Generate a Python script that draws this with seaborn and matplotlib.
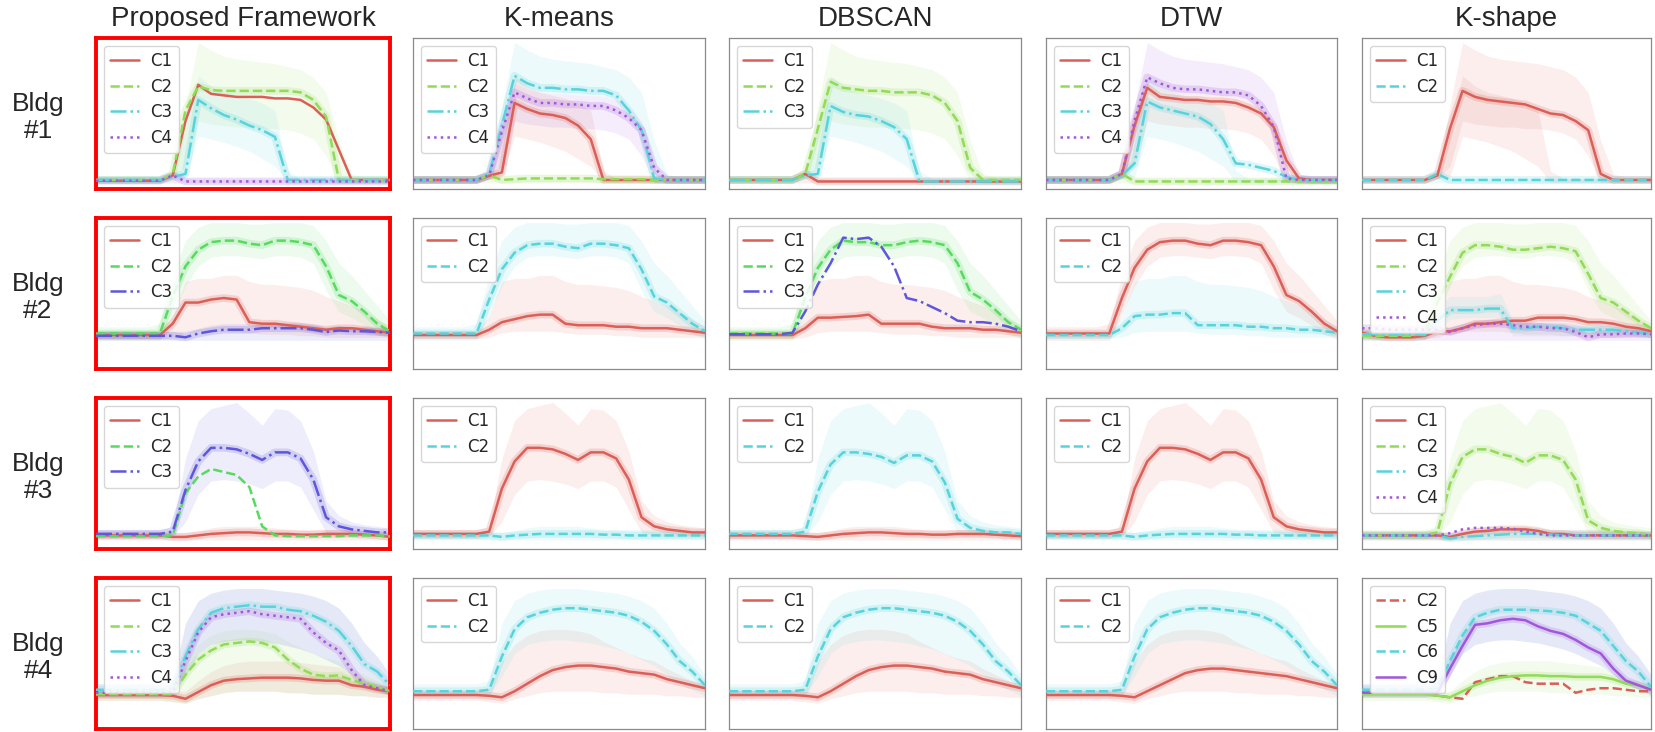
import matplotlib
matplotlib.use("Agg")
import matplotlib.pyplot as plt
import seaborn as sns

# ---------------- data (values read as fraction of panel height) ----------------
hours = list(range(24))
methods = ["Proposed Framework", "K-means", "DBSCAN", "DTW", "K-shape"]
buildings = ["Bldg\n#1", "Bldg\n#2", "Bldg\n#3", "Bldg\n#4"]

# Bldg 1 centroids
b1_prop_c1 = [.055,.055,.055,.055,.055,.055,.09,.45,.69,.63,.62,.61,.61,.61,.60,.60,.59,.54,.46,.26,.06,.06,.06,.06]
b1_prop_c2 = [.06,.06,.06,.06,.06,.06,.10,.52,.68,.655,.65,.65,.65,.65,.65,.65,.64,.59,.48,.06,.06,.06,.06,.06]
b1_prop_c3 = [.06,.06,.06,.06,.06,.06,.08,.10,.59,.535,.49,.46,.42,.39,.345,.06,.06,.06,.06,.06,.06,.06,.06,.06]
b1_prop_c4 = [.055,.055,.055,.055,.055,.055,.09,.05,.05,.05,.05,.05,.05,.05,.05,.05,.05,.05,.05,.05,.05,.05,.05,.05]
b1_km_c1 = [.06,.06,.06,.06,.06,.06,.087,.11,.57,.53,.50,.49,.47,.42,.33,.06,.06,.06,.06,.06,.06,.06,.06,.06]
b1_km_c2 = [.06,.06,.06,.06,.06,.06,.09,.06,.065,.07,.07,.07,.07,.07,.07,.065,.065,.065,.065,.06,.06,.06,.06,.06]
b1_km_c3 = [.06,.06,.06,.06,.06,.06,.10,.42,.75,.70,.67,.67,.66,.66,.65,.65,.62,.52,.39,.07,.06,.06,.06,.06]
b1_km_c4 = [.06,.06,.06,.06,.06,.06,.09,.38,.64,.60,.57,.57,.56,.56,.55,.55,.52,.47,.39,.14,.06,.06,.06,.06]
b1_db_c1 = [.06,.06,.06,.06,.06,.06,.10,.05,.05,.05,.05,.05,.05,.05,.05,.05,.05,.05,.05,.05,.05,.05,.05,.05]
b1_db_c2 = [.06,.06,.06,.06,.06,.06,.10,.40,.71,.67,.66,.65,.65,.64,.64,.64,.62,.57,.45,.14,.06,.06,.06,.06]
b1_db_c3 = [.06,.06,.06,.06,.06,.06,.09,.10,.55,.51,.49,.48,.45,.41,.33,.05,.05,.05,.05,.05,.05,.05,.05,.05]
b1_dtw_c1 = [.06,.06,.06,.06,.06,.06,.10,.42,.67,.61,.60,.59,.59,.58,.58,.57,.54,.50,.41,.19,.07,.06,.06,.06]
b1_dtw_c2 = [.06,.06,.06,.06,.06,.06,.10,.05,.05,.05,.05,.05,.05,.05,.05,.05,.05,.05,.05,.05,.05,.05,.05,.05]
b1_dtw_c3 = [.06,.06,.06,.06,.06,.06,.09,.17,.58,.54,.52,.50,.48,.43,.33,.17,.16,.14,.12,.08,.06,.06,.06,.06]
b1_dtw_c4 = [.06,.06,.06,.06,.06,.06,.10,.45,.74,.70,.67,.66,.66,.65,.64,.64,.62,.55,.41,.07,.06,.06,.06,.06]
b1_ks_c1 = [.06,.06,.06,.06,.06,.06,.09,.40,.65,.61,.59,.58,.57,.56,.53,.50,.49,.45,.39,.10,.06,.06,.06,.06]
b1_ks_c2 = [.06,.06,.06,.06,.06,.06,.10,.06,.06,.06,.06,.06,.06,.06,.06,.06,.06,.06,.06,.06,.06,.06,.06,.06]
# Bldg 1 member envelopes
b1_plat_hi = [.08,.08,.08,.08,.08,.08,.12,.55,.97,.92,.88,.86,.85,.84,.83,.81,.79,.74,.64,.32,.10,.08,.08,.08]
b1_plat_mid = [.06,.06,.06,.06,.06,.06,.10,.42,.70,.66,.64,.63,.63,.62,.62,.61,.59,.54,.45,.18,.06,.06,.06,.06]
b1_plat_lo = [.04,.04,.04,.04,.04,.04,.07,.15,.45,.43,.42,.41,.41,.40,.40,.39,.37,.33,.22,.04,.04,.04,.04,.04]
b1_early_hi = [.07,.07,.07,.07,.07,.07,.10,.40,.75,.68,.64,.62,.60,.57,.52,.12,.07,.07,.07,.07,.07,.07,.07,.07]
b1_early_lo = [.045,.045,.045,.045,.045,.045,.07,.08,.35,.33,.31,.28,.25,.20,.15,.045,.045,.045,.045,.045,.045,.045,.045,.045]
b1_base_hi = [.075,.075,.075,.075,.075,.075,.11,.07,.065,.065,.065,.065,.065,.065,.065,.065,.065,.065,.065,.065,.065,.065,.065,.065]
b1_base_lo = [.04,.04,.04,.04,.04,.04,.04,.04,.04,.04,.04,.04,.04,.04,.04,.04,.04,.04,.04,.04,.04,.04,.04,.04]

# Bldg 2 centroids
b2_prop_c1 = [.225,.225,.225,.225,.225,.225,.30,.44,.44,.46,.47,.46,.31,.30,.30,.29,.28,.27,.26,.27,.27,.26,.25,.24]
b2_prop_c2 = [.235,.235,.235,.235,.235,.235,.48,.68,.79,.84,.85,.85,.83,.82,.85,.85,.84,.82,.68,.49,.45,.38,.30,.25]
b2_prop_c3 = [.22,.22,.22,.22,.22,.22,.22,.21,.235,.25,.26,.26,.26,.27,.27,.27,.27,.26,.245,.255,.25,.25,.245,.24]
b2_km_c1 = [.225,.225,.225,.225,.225,.225,.26,.31,.33,.35,.36,.36,.30,.29,.29,.29,.28,.28,.27,.27,.27,.26,.25,.24]
b2_km_c2 = [.235,.235,.235,.235,.235,.235,.46,.66,.77,.82,.83,.83,.81,.80,.83,.83,.82,.80,.66,.48,.44,.37,.30,.25]
b2_db_c1 = [.225,.225,.225,.225,.225,.225,.27,.34,.34,.345,.35,.36,.30,.30,.30,.30,.28,.27,.27,.27,.26,.26,.25,.24]
b2_db_c2 = [.235,.235,.235,.235,.235,.235,.47,.67,.79,.85,.84,.84,.82,.82,.84,.85,.84,.82,.70,.51,.46,.39,.31,.26]
b2_db_c3 = [.23,.23,.23,.23,.23,.24,.38,.56,.70,.87,.86,.87,.81,.68,.47,.45,.41,.37,.32,.31,.31,.30,.28,.25]
b2_dtw_c1 = [.235,.235,.235,.235,.235,.235,.47,.67,.79,.84,.85,.85,.83,.82,.85,.85,.84,.82,.68,.49,.45,.38,.30,.25]
b2_dtw_c2 = [.225,.225,.225,.225,.225,.225,.27,.35,.36,.36,.37,.37,.29,.29,.29,.29,.28,.28,.27,.27,.26,.26,.25,.24]
b2_ks_c1 = [.24,.22,.21,.21,.21,.22,.25,.25,.27,.30,.30,.31,.32,.32,.34,.34,.34,.33,.31,.31,.30,.28,.27,.25]
b2_ks_c2 = [.22,.22,.22,.22,.22,.24,.44,.61,.77,.82,.82,.81,.79,.79,.80,.81,.80,.78,.63,.47,.44,.38,.32,.27]
b2_ks_c3 = [.23,.23,.23,.23,.23,.225,.32,.39,.39,.39,.40,.40,.27,.27,.28,.28,.27,.26,.26,.26,.26,.25,.24,.235]
b2_ks_c4 = [.27,.27,.26,.26,.26,.26,.26,.245,.27,.29,.30,.30,.29,.28,.28,.27,.27,.245,.21,.23,.23,.235,.235,.23]
# Bldg 2 member envelopes
b2_high_hi = [.28,.28,.28,.28,.28,.30,.62,.85,.94,.97,.97,.97,.96,.96,.97,.97,.97,.95,.85,.70,.62,.52,.42,.32]
b2_high_lo = [.19,.19,.19,.19,.19,.19,.36,.55,.68,.74,.75,.75,.74,.73,.75,.75,.74,.70,.52,.38,.34,.29,.23,.20]
b2_mid_hi = [.25,.25,.25,.25,.25,.25,.35,.58,.60,.60,.62,.62,.58,.56,.56,.55,.54,.52,.48,.45,.42,.38,.33,.28]
b2_mid_lo = [.20,.20,.20,.20,.20,.20,.21,.24,.25,.25,.25,.25,.24,.23,.23,.23,.22,.22,.21,.21,.21,.21,.21,.21]
b2_step_hi = [.25,.25,.25,.25,.25,.25,.40,.48,.48,.48,.48,.50,.33,.30,.30,.29,.29,.28,.28,.28,.27,.27,.26,.26]
b2_step_lo = [.20,.20,.20,.20,.20,.20,.26,.33,.34,.34,.34,.34,.22,.22,.22,.22,.22,.22,.22,.22,.22,.22,.22,.22]
b2_base_hi = [.25,.25,.25,.25,.25,.25,.25,.25,.27,.29,.30,.30,.30,.31,.31,.31,.31,.30,.28,.29,.28,.28,.27,.27]
b2_base_lo = [.19,.19,.19,.19,.19,.19,.19,.19,.19,.19,.19,.19,.19,.19,.19,.19,.19,.19,.19,.19,.19,.19,.19,.19]

# Bldg 3 centroids
b3_prop_c1 = [.09,.09,.09,.09,.09,.09,.08,.08,.09,.10,.105,.11,.11,.105,.10,.10,.095,.095,.10,.10,.10,.095,.09,.08]
b3_prop_c2 = [.085,.085,.085,.085,.085,.085,.09,.37,.48,.53,.51,.49,.41,.15,.09,.085,.085,.085,.085,.085,.09,.09,.09,.085]
b3_prop_c3 = [.10,.10,.10,.10,.10,.10,.115,.39,.58,.67,.67,.66,.63,.59,.64,.64,.60,.46,.21,.15,.13,.12,.11,.11]
b3_km_c1 = [.10,.10,.10,.10,.10,.10,.115,.40,.58,.67,.67,.66,.63,.59,.64,.64,.60,.46,.21,.15,.13,.12,.11,.11]
b3_km_c2 = [.09,.09,.09,.09,.09,.09,.09,.08,.09,.095,.10,.10,.10,.10,.10,.095,.095,.09,.09,.09,.09,.09,.09,.09]
b3_db_c1 = [.09,.09,.09,.09,.09,.09,.085,.08,.09,.10,.105,.11,.11,.105,.10,.10,.095,.095,.10,.10,.10,.095,.09,.085]
b3_db_c2 = [.10,.10,.10,.10,.10,.10,.115,.38,.56,.64,.64,.63,.61,.57,.62,.62,.58,.44,.20,.14,.12,.11,.11,.10]
b3_dtw_c1 = [.10,.10,.10,.10,.10,.10,.115,.40,.58,.67,.67,.66,.63,.59,.64,.64,.60,.46,.21,.15,.13,.12,.11,.11]
b3_dtw_c2 = [.09,.09,.09,.09,.09,.09,.09,.08,.09,.095,.10,.10,.10,.10,.10,.095,.095,.09,.09,.09,.09,.09,.09,.09]
b3_ks_c1 = [.09,.09,.09,.09,.09,.09,.09,.08,.10,.115,.12,.13,.13,.13,.12,.10,.10,.09,.09,.09,.09,.09,.09,.09]
b3_ks_c2 = [.09,.09,.09,.09,.09,.09,.11,.43,.61,.66,.66,.63,.61,.57,.62,.62,.59,.46,.19,.14,.12,.11,.105,.09]
b3_ks_c3 = [.09,.09,.09,.09,.09,.09,.09,.07,.08,.085,.09,.095,.10,.10,.10,.095,.09,.09,.09,.09,.09,.09,.09,.09]
b3_ks_c4 = [.09,.09,.09,.09,.09,.09,.09,.105,.13,.14,.14,.14,.135,.115,.10,.09,.09,.09,.09,.09,.09,.09,.09,.09]
# Bldg 3 member envelopes
b3_high_hi = [.13,.13,.13,.13,.13,.13,.15,.60,.85,.93,.95,.97,.90,.82,.93,.92,.85,.65,.32,.22,.18,.16,.15,.14]
b3_high_lo = [.07,.07,.07,.07,.07,.07,.08,.18,.36,.45,.46,.45,.43,.40,.45,.45,.41,.26,.11,.09,.08,.08,.08,.08]
b3_base_hi = [.11,.11,.11,.11,.11,.11,.11,.11,.12,.14,.15,.15,.15,.15,.14,.13,.13,.13,.13,.13,.13,.12,.12,.11]
b3_base_lo = [.06,.06,.06,.06,.06,.06,.06,.06,.06,.06,.06,.06,.06,.06,.06,.06,.06,.06,.06,.06,.06,.06,.06,.06]

# Bldg 4 centroids
b4_prop_c1 = [.225,.225,.225,.225,.225,.225,.22,.20,.245,.29,.32,.33,.335,.34,.34,.34,.335,.325,.32,.32,.29,.28,.26,.25]
b4_prop_c2 = [.23,.23,.23,.23,.23,.23,.23,.36,.46,.52,.56,.57,.58,.57,.54,.46,.40,.36,.35,.355,.325,.30,.28,.25]
b4_prop_c3 = [.26,.26,.26,.26,.26,.26,.27,.48,.66,.77,.80,.81,.82,.81,.81,.79,.78,.75,.71,.65,.55,.43,.38,.29]
b4_prop_c4 = [.24,.24,.24,.24,.24,.24,.24,.45,.64,.74,.76,.77,.78,.76,.75,.74,.73,.64,.57,.52,.39,.29,.27,.25]
b4_km_c1 = [.225,.225,.225,.225,.225,.225,.22,.21,.25,.30,.35,.39,.41,.42,.42,.41,.40,.38,.37,.36,.33,.31,.29,.27]
b4_km_c2 = [.25,.25,.25,.25,.25,.25,.26,.48,.66,.74,.77,.79,.80,.80,.79,.78,.77,.75,.71,.65,.56,.45,.38,.29]
b4_db_c1 = [.225,.225,.225,.225,.225,.225,.22,.21,.25,.30,.35,.39,.41,.42,.42,.41,.40,.38,.37,.36,.33,.31,.29,.27]
b4_db_c2 = [.25,.25,.25,.25,.25,.25,.26,.48,.66,.74,.77,.79,.80,.80,.79,.78,.77,.75,.71,.65,.56,.45,.38,.29]
b4_dtw_c1 = [.225,.225,.225,.225,.225,.225,.22,.21,.25,.29,.33,.37,.39,.40,.40,.39,.38,.37,.36,.35,.33,.31,.29,.27]
b4_dtw_c2 = [.25,.25,.25,.25,.25,.25,.26,.48,.66,.74,.77,.79,.80,.80,.79,.78,.77,.75,.71,.65,.56,.45,.38,.29]
b4_ks_c2 = [.24,.24,.24,.24,.24,.24,.22,.21,.20,.31,.33,.35,.35,.31,.30,.30,.30,.24,.26,.27,.27,.26,.25,.25]
b4_ks_c5 = [.23,.23,.23,.23,.23,.23,.22,.21,.25,.29,.32,.34,.35,.355,.355,.35,.35,.345,.345,.345,.33,.30,.29,.26]
b4_ks_c6 = [.26,.26,.26,.26,.26,.26,.27,.45,.62,.74,.77,.79,.79,.79,.785,.78,.77,.75,.70,.65,.55,.45,.38,.28]
b4_ks_c9 = [.24,.24,.24,.24,.24,.24,.24,.40,.55,.69,.70,.72,.73,.72,.68,.65,.63,.59,.54,.50,.40,.32,.29,.26]
# Bldg 4 member envelopes
b4_high_hi = [.30,.30,.30,.30,.30,.30,.32,.70,.85,.90,.92,.93,.93,.93,.92,.91,.90,.88,.85,.80,.70,.57,.48,.36]
b4_high_lo = [.21,.21,.21,.21,.21,.21,.22,.35,.50,.56,.58,.59,.59,.58,.57,.55,.53,.50,.46,.42,.36,.30,.26,.22]
b4_mid_hi = [.26,.26,.26,.26,.26,.26,.27,.45,.56,.62,.65,.66,.66,.65,.63,.58,.54,.50,.47,.45,.40,.36,.32,.28]
b4_low_hi = [.25,.25,.25,.25,.25,.25,.25,.25,.32,.38,.42,.44,.45,.45,.45,.45,.44,.43,.42,.41,.37,.34,.30,.28]
b4_low_lo = [.19,.19,.19,.19,.19,.19,.18,.17,.20,.22,.24,.25,.25,.25,.25,.24,.24,.23,.23,.23,.22,.22,.21,.21]

# ---------------- panel composition ----------------
# each cluster: (label, centroid, colour index, linestyle, [(lower, upper) envelopes])
P1, P2, P3 = (b1_plat_lo, b1_plat_hi), (b1_early_lo, b1_early_hi), (b1_base_lo, b1_base_hi)
B1_UP, B1_LOW = (b1_plat_mid, b1_plat_hi), (b1_plat_lo, b1_plat_mid)
H2, M2, S2, Z2 = (b2_high_lo, b2_high_hi), (b2_mid_lo, b2_mid_hi), (b2_step_lo, b2_step_hi), (b2_base_lo, b2_base_hi)
H3, Z3 = (b3_high_lo, b3_high_hi), (b3_base_lo, b3_base_hi)
H4, M4, L4 = (b4_high_lo, b4_high_hi), (b4_low_lo, b4_mid_hi), (b4_low_lo, b4_low_hi)

panels = [
    [
        (4, [("C1", b1_prop_c1, 0, "-", []), ("C2", b1_prop_c2, 1, "--", [P1]),
             ("C3", b1_prop_c3, 2, "-.", [P2]), ("C4", b1_prop_c4, 3, ":", [P3])]),
        (4, [("C1", b1_km_c1, 0, "-", [P2]), ("C2", b1_km_c2, 1, "--", [P3]),
             ("C3", b1_km_c3, 2, "-.", [B1_UP]), ("C4", b1_km_c4, 3, ":", [B1_LOW])]),
        (4, [("C1", b1_db_c1, 0, "-", [P3]), ("C2", b1_db_c2, 1, "--", [P1]),
             ("C3", b1_db_c3, 2, "-.", [P2])]),
        (4, [("C1", b1_dtw_c1, 0, "-", [B1_LOW]), ("C2", b1_dtw_c2, 1, "--", [P3]),
             ("C3", b1_dtw_c3, 2, "-.", [P2]), ("C4", b1_dtw_c4, 3, ":", [B1_UP])]),
        (2, [("C1", b1_ks_c1, 0, "-", [P1, P2]), ("C2", b1_ks_c2, 1, "--", [P3])]),
    ],
    [
        (3, [("C1", b2_prop_c1, 0, "-", [M2]), ("C2", b2_prop_c2, 1, "--", [H2]),
             ("C3", b2_prop_c3, 2, "-.", [Z2])]),
        (2, [("C1", b2_km_c1, 0, "-", [M2]), ("C2", b2_km_c2, 1, "--", [H2])]),
        (3, [("C1", b2_db_c1, 0, "-", [M2]), ("C2", b2_db_c2, 1, "--", [H2]),
             ("C3", b2_db_c3, 2, "-.", [])]),
        (2, [("C1", b2_dtw_c1, 0, "-", [H2]), ("C2", b2_dtw_c2, 1, "--", [M2])]),
        (4, [("C1", b2_ks_c1, 0, "-", [M2]), ("C2", b2_ks_c2, 1, "--", [H2]),
             ("C3", b2_ks_c3, 2, "-.", [S2]), ("C4", b2_ks_c4, 3, ":", [Z2])]),
    ],
    [
        (3, [("C1", b3_prop_c1, 0, "-", [Z3]), ("C2", b3_prop_c2, 1, "--", []),
             ("C3", b3_prop_c3, 2, "-.", [H3])]),
        (2, [("C1", b3_km_c1, 0, "-", [H3]), ("C2", b3_km_c2, 1, "--", [Z3])]),
        (2, [("C1", b3_db_c1, 0, "-", [Z3]), ("C2", b3_db_c2, 1, "--", [H3])]),
        (2, [("C1", b3_dtw_c1, 0, "-", [H3]), ("C2", b3_dtw_c2, 1, "--", [Z3])]),
        (4, [("C1", b3_ks_c1, 0, "-", [Z3]), ("C2", b3_ks_c2, 1, "--", [H3]),
             ("C3", b3_ks_c3, 2, "-.", [Z3]), ("C4", b3_ks_c4, 3, ":", [])]),
    ],
    [
        (4, [("C1", b4_prop_c1, 0, "-", [L4]), ("C2", b4_prop_c2, 1, "--", [M4]),
             ("C3", b4_prop_c3, 2, "-.", [H4]), ("C4", b4_prop_c4, 3, ":", [H4])]),
        (2, [("C1", b4_km_c1, 0, "-", [M4]), ("C2", b4_km_c2, 1, "--", [H4])]),
        (2, [("C1", b4_db_c1, 0, "-", [M4]), ("C2", b4_db_c2, 1, "--", [H4])]),
        (2, [("C1", b4_dtw_c1, 0, "-", [M4]), ("C2", b4_dtw_c2, 1, "--", [H4])]),
        (4, [("C2", b4_ks_c2, 0, "--", []), ("C5", b4_ks_c5, 1, "-", [L4]),
             ("C6", b4_ks_c6, 2, "--", [H4]), ("C9", b4_ks_c9, 3, "-", [H4])]),
    ],
]

# ---------------- drawing ----------------
sns.set_theme(style="white")
plt.rcParams["font.family"] = ["DejaVu Sans"]

W, H = 1655, 732
fig = plt.figure(figsize=(W / 100, H / 100), dpi=100)
col_left = [96, 413, 729, 1046, 1362]
col_width = [294, 292, 292, 291, 289]
row_top = [38, 218, 398, 578]
row_h = 151

for r in range(4):
    for c in range(5):
        ax = fig.add_axes([col_left[c] / W, 1 - (row_top[r] + row_h) / H,
                           col_width[c] / W, row_h / H])
        npal, clusters = panels[r][c]
        pal = sns.color_palette("hls", npal)
        for lab, vals, ci, ls, bands in clusters:
            col = pal[ci]
            for lo, hi in bands:
                ax.fill_between(hours, lo, hi, color=col, alpha=0.10, lw=0, zorder=1)
            if bands:
                sns.lineplot(x=hours, y=vals, ax=ax, color=col, lw=5.5, alpha=0.2, zorder=2)
        for lab, vals, ci, ls, bands in clusters:
            sns.lineplot(x=hours, y=vals, ax=ax, color=pal[ci], lw=1.8, linestyle=ls,
                         label=lab, zorder=3)
        ax.set_xlim(0, 23)
        ax.set_ylim(0, 1)
        ax.set_xticks([])
        ax.set_yticks([])
        ax.set_xlabel("")
        ax.set_ylabel("")
        for s in ax.spines.values():
            if c == 0:
                s.set_edgecolor("#ff0000")
                s.set_linewidth(2.8)
            else:
                s.set_edgecolor("#8a8a8a")
                s.set_linewidth(0.9)
            s.set_visible(True)
        ax.legend(loc="upper left", fontsize=12, handlelength=1.7, handletextpad=0.7,
                  labelspacing=0.45, borderaxespad=0.45, borderpad=0.4,
                  frameon=True, framealpha=0.85, edgecolor="#d0d0d0")
        if r == 0:
            ax.set_title(methods[c], fontsize=20, pad=9, family="Liberation Sans")
        if c == 0:
            fig.text(38 / W, 1 - (row_top[r] + row_h / 2 + 4) / H, buildings[r],
                     ha="center", va="center", fontsize=19, linespacing=1.2,
                     family="Liberation Sans", multialignment="center")

fig.savefig("out.png", dpi=100)
